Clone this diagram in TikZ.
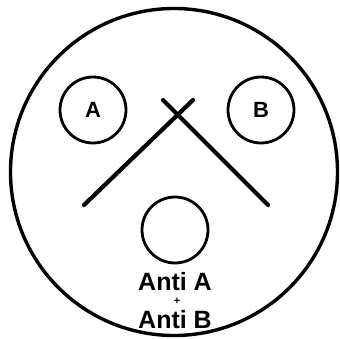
\documentclass[tikz,border=0pt]{standalone}
\usepackage{fontspec}
\setmainfont{Liberation Sans}
\tikzset{
  spot/.style={draw, circle, line width=2.8pt, minimum size=66pt, inner sep=0pt,
               font=\bfseries\fontsize{22}{22}\selectfont},
  bar/.style={line width=4.2pt, line cap=round},
  serum/.style={font=\bfseries\fontsize{25}{25}\selectfont, inner sep=0pt}
}
\begin{document}
\begin{tikzpicture}[x=1pt, y=-1pt]
  \useasboundingbox (0,0) rectangle (340,339);
  % slide with three drops
  \node[draw, circle, line width=3.4pt, minimum size=327pt] (slide) at (174,172) {};
  \node[spot] (dropA) at (93,110) {A};
  \node[spot] (dropB) at (261,110) {B};
  \node[spot] (dropAB) at (175,230) {};

  % crossed mixing sticks
  \coordinate (s1a) at (163,100);
  \coordinate (s1b) at (268,205);
  \coordinate (s2a) at (193,100);
  \coordinate (s2b) at (84,205);
  \draw[bar] (s1a) -- (s1b);
  \draw[bar] (s2a) -- (s2b);

  % label of the bottom drop
  \node[serum] (antiA) at (175,282) {Anti A};
  \node[serum, font=\bfseries\fontsize{11}{11}\selectfont] (plus) at (177,301) {+};
  \node[serum] (antiB) at (175,320) {Anti B};
\end{tikzpicture}
\end{document}
